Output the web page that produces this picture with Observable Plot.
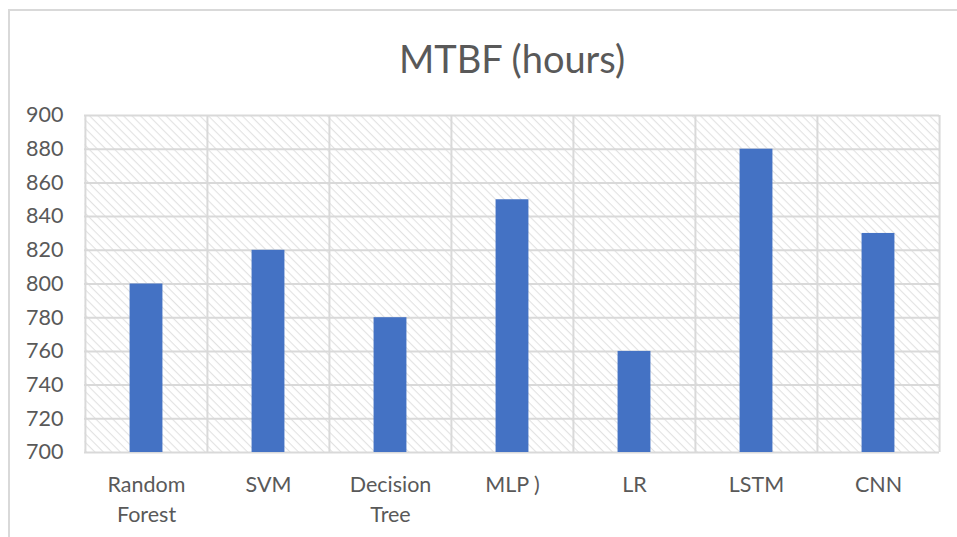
<!DOCTYPE html>
<html>
<head>
<meta charset="utf-8">
<script src="https://cdn.jsdelivr.net/npm/d3@7"></script>
<script src="https://cdn.jsdelivr.net/npm/@observablehq/plot@0.6"></script>
<style>
  html, body { margin: 0; padding: 0; background: #fff; overflow: hidden; }
  #wrap { position: relative; width: 957px; height: 537px; }
  #border { position: absolute; left: 8px; top: 9px; width: 960px; height: 540px; border: 2px solid #d9d9d9; box-sizing: border-box; pointer-events: none; }
</style>
</head>
<body>
<div id="wrap"><div id="chart"></div><div id="border"></div></div>
<script>
const categories = ["Random Forest", "SVM", "Decision Tree", "MLP )", "LR", "LSTM", "CNN"];
const mtbfHours = [800, 820, 780, 850, 760, 880, 830];
const yTicks = [700, 720, 740, 760, 780, 800, 820, 840, 860, 880, 900];
const titleText = "MTBF (hours)";

const data = categories.map((c, i) => ({model: c, value: mtbfHours[i]}));

const W = 957, H = 537;
const mL = 84, mR = 18, mT = 115, mB = 85;
const band = (W - mL - mR) / categories.length;
const barW = 33;
const grid = "#d9d9d9";
const txt = "#595959";
const font = "Lato, 'Open Sans', sans-serif";

const chart = Plot.plot({
  width: W, height: H,
  marginLeft: mL, marginRight: mR, marginTop: mT, marginBottom: mB,
  style: {fontFamily: font, fontSize: "21px", color: txt, background: "transparent"},
  x: {domain: categories, padding: 0, label: null},
  y: {domain: [700, 900], label: null},
  marks: [
    Plot.frame({fill: "url(#hatch)", stroke: null}),
    Plot.ruleY(yTicks, {stroke: grid, strokeWidth: 2}),
    Plot.ruleX(categories, {x: d => d, dx: -band / 2, stroke: grid, strokeWidth: 2}),
    Plot.ruleX([categories[categories.length - 1]], {x: d => d, dx: band / 2, stroke: grid, strokeWidth: 2}),
    Plot.barY(data, {x: "model", y1: 700, y2: "value", fill: "#4472c4", insetLeft: (band - barW) / 2, insetRight: (band - barW) / 2}),
    Plot.axisY({ticks: yTicks, tickSize: 0, tickPadding: 21, fontSize: 21.5, fill: txt, label: null}),
    Plot.axisX({tickSize: 0, tickPadding: 18, fontSize: 21.5, fill: txt, lineHeight: 1.4, tickFormat: d => d.replace(" ", "\n").replace("MLP\n)", "MLP )"), label: null}),
    Plot.text([titleText], {frameAnchor: "top", lineAnchor: "middle", dy: -55, fontSize: 38, fill: txt, text: d => d})
  ]
});

const svg = d3.select(chart);
const defs = svg.insert("defs", ":first-child");
const pat = defs.append("pattern").attr("id", "hatch").attr("patternUnits", "userSpaceOnUse")
  .attr("width", 6).attr("height", 6).attr("patternTransform", "rotate(45)");
pat.append("rect").attr("width", 6).attr("height", 6).attr("fill", "#ffffff");
pat.append("line").attr("x1", 0).attr("y1", 0).attr("x2", 6).attr("y2", 0).attr("stroke", "#e2e2e2").attr("stroke-width", 2.2);

document.getElementById("chart").appendChild(chart);
</script>
</body>
</html>
